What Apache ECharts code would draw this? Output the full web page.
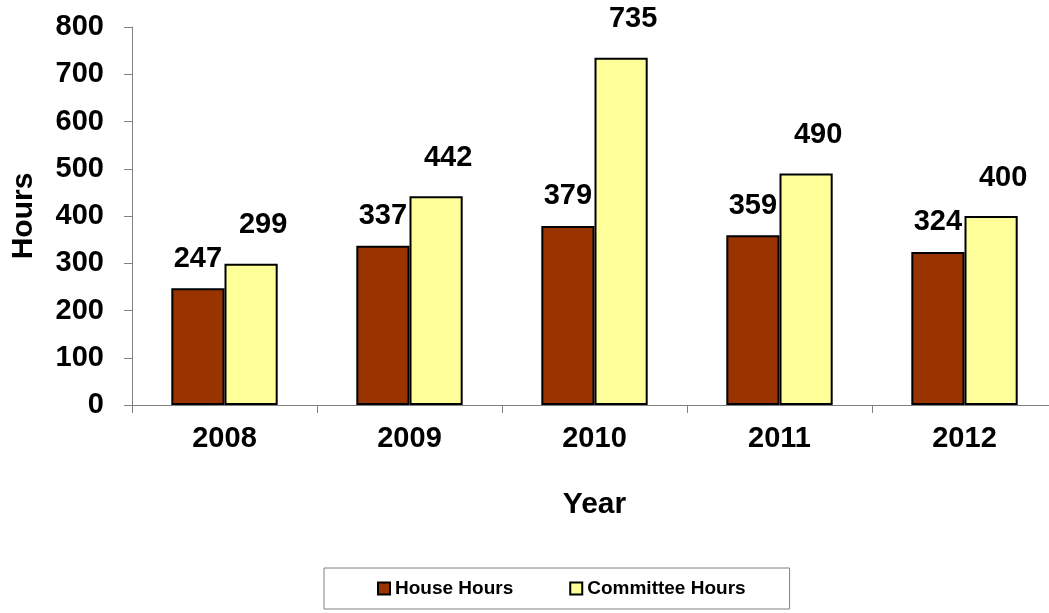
<!DOCTYPE html>
<html>
<head>
<meta charset="utf-8">
<script src="https://cdn.jsdelivr.net/npm/echarts@6/dist/echarts.min.js"></script>
<style>
  html, body { margin: 0; padding: 0; background: #fff; }
  #chart { width: 1049px; height: 613px; }
</style>
</head>
<body>
<div id="chart"></div>
<script>
var years = ["2008", "2009", "2010", "2011", "2012"];
var houseHours = [247, 337, 379, 359, 324];
var committeeHours = [299, 442, 735, 490, 400];

var font = "Arial, 'Liberation Sans', sans-serif";
var chart = echarts.init(document.getElementById("chart"));

chart.setOption({
  animation: false,
  textStyle: { fontFamily: font },
  grid: {
    left: 132,
    right: -8,
    top: 27,
    bottom: 208,
    containLabel: false,
    outerBoundsMode: "none"
  },
  legend: {
    left: 324,
    top: 568,
    padding: [11, 44, 11, 53],
    itemWidth: 12,
    itemHeight: 12,
    itemGap: 56,
    icon: "rect",
    borderColor: "#808080",
    borderWidth: 1,
    backgroundColor: "#fff",
    textStyle: { fontSize: 19, fontWeight: "bold", color: "#000", fontFamily: font },
    data: ["House Hours", "Committee Hours"]
  },
  xAxis: {
    type: "category",
    data: years,
    name: "Year",
    nameLocation: "middle",
    nameGap: 85,
    nameTextStyle: { fontSize: 30, fontWeight: "bold", color: "#000", fontFamily: font },
    axisLine: { lineStyle: { color: "#808080", width: 1 } },
    axisTick: { show: true, length: 8, lineStyle: { color: "#808080" } },
    axisLabel: { fontSize: 29, fontWeight: "bold", color: "#000", margin: 19, fontFamily: font }
  },
  yAxis: {
    type: "value",
    min: 0,
    max: 800,
    interval: 100,
    name: "Hours",
    nameLocation: "middle",
    nameRotate: 90,
    nameGap: 93,
    nameTextStyle: { fontSize: 30, fontWeight: "bold", color: "#000", fontFamily: font },
    axisLine: { show: true, lineStyle: { color: "#808080", width: 1 } },
    axisTick: { show: true, length: 8, lineStyle: { color: "#808080" } },
    splitLine: { show: false },
    axisLabel: { fontSize: 29, fontWeight: "bold", color: "#000", margin: 28, fontFamily: font }
  },
  series: [
    {
      name: "House Hours",
      type: "bar",
      data: houseHours,
      barGap: "0%",
      barCategoryGap: "42.5%",
      itemStyle: { color: "#993300", borderColor: "#000", borderWidth: 2 },
      label: {
        show: true,
        position: "top",
        offset: [0, -10],
        fontSize: 29,
        fontWeight: "bold",
        color: "#000",
        fontFamily: font
      }
    },
    {
      name: "Committee Hours",
      type: "bar",
      data: committeeHours,
      barGap: "0%",
      barCategoryGap: "42.5%",
      itemStyle: { color: "#FFFF99", borderColor: "#000", borderWidth: 2 },
      label: {
        show: true,
        position: "top",
        offset: [12, -19],
        fontSize: 29,
        fontWeight: "bold",
        color: "#000",
        fontFamily: font
      }
    }
  ]
});
</script>
</body>
</html>
